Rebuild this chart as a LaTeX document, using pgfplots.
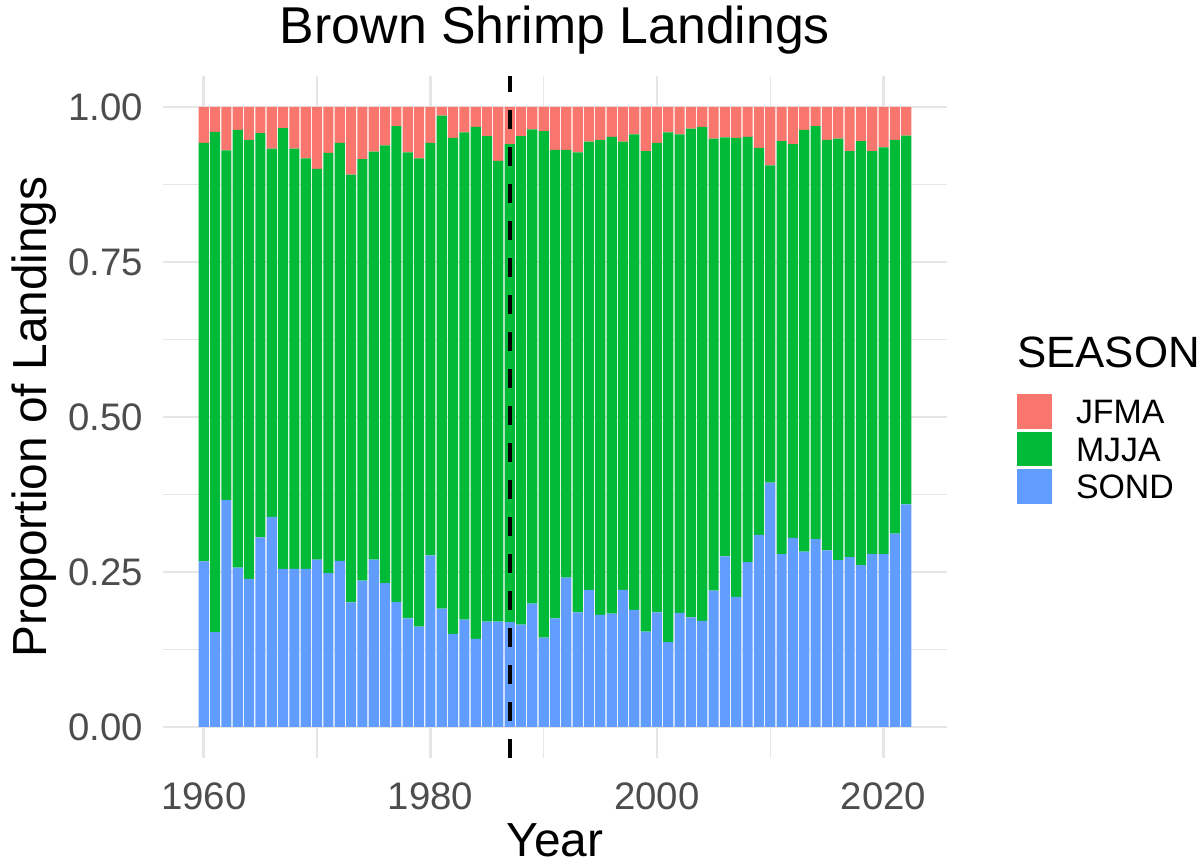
\documentclass[border=0pt]{standalone}
\usepackage{pgfplots}
\pgfplotsset{compat=1.18}
\usepackage{pgfplotstable}
\usepackage{fontspec}
\setmainfont{Liberation Sans}
\definecolor{cJFMA}{HTML}{F8766D}
\definecolor{cMJJA}{HTML}{00BA38}
\definecolor{cSOND}{HTML}{619CFF}
\definecolor{gridc}{HTML}{E6E6E6}
\definecolor{tickc}{HTML}{4D4D4D}
\pgfplotstableread{
year SOND MJJA JFMA
1960 0.267 0.675 0.058
1961 0.153 0.807 0.040
1962 0.366 0.564 0.070
1963 0.257 0.706 0.037
1964 0.239 0.708 0.053
1965 0.306 0.652 0.042
1966 0.339 0.594 0.067
1967 0.255 0.711 0.034
1968 0.255 0.678 0.067
1969 0.255 0.662 0.083
1970 0.270 0.630 0.100
1971 0.248 0.678 0.074
1972 0.268 0.674 0.058
1973 0.201 0.690 0.109
1974 0.236 0.680 0.084
1975 0.270 0.658 0.072
1976 0.232 0.706 0.062
1977 0.202 0.767 0.031
1978 0.175 0.752 0.073
1979 0.162 0.755 0.083
1980 0.277 0.665 0.058
1981 0.191 0.795 0.014
1982 0.150 0.800 0.050
1983 0.173 0.786 0.041
1984 0.142 0.826 0.032
1985 0.170 0.783 0.047
1986 0.170 0.743 0.087
1987 0.169 0.771 0.060
1988 0.165 0.788 0.047
1989 0.199 0.765 0.036
1990 0.144 0.817 0.039
1991 0.175 0.756 0.069
1992 0.241 0.690 0.069
1993 0.185 0.742 0.073
1994 0.221 0.723 0.056
1995 0.181 0.766 0.053
1996 0.183 0.769 0.048
1997 0.221 0.723 0.056
1998 0.189 0.767 0.044
1999 0.154 0.775 0.071
2000 0.185 0.757 0.058
2001 0.137 0.822 0.041
2002 0.184 0.772 0.044
2003 0.177 0.788 0.035
2004 0.171 0.797 0.032
2005 0.220 0.729 0.051
2006 0.275 0.676 0.049
2007 0.210 0.740 0.050
2008 0.266 0.686 0.048
2009 0.310 0.624 0.066
2010 0.394 0.512 0.094
2011 0.279 0.666 0.055
2012 0.305 0.635 0.060
2013 0.283 0.680 0.037
2014 0.303 0.666 0.031
2015 0.285 0.662 0.053
2016 0.269 0.680 0.051
2017 0.274 0.655 0.071
2018 0.261 0.684 0.055
2019 0.279 0.650 0.071
2020 0.279 0.656 0.065
2021 0.312 0.635 0.053
2022 0.359 0.595 0.046
}\datatable
\pgfplotstableread{
x y
1987 -0.05
1987 1.05
}\vlinetable
\begin{document}
\begin{tikzpicture}
\useasboundingbox (0,0) rectangle (1204bp,867bp);
\begin{axis}[
  at={(163bp,109bp)}, anchor=south west,
  width=784bp, height=682bp, scale only axis,
  clip=false,
  xmin=1956.405, xmax=2025.595,
  ymin=-0.05, ymax=1.05,
  ybar stacked, bar width=0.9,
  xtick={1960,1980,2000,2020},
  minor xtick={1970,1990,2010},
  ytick={0,0.25,0.5,0.75,1},
  minor ytick={0.125,0.375,0.625,0.875},
  grid=both,
  major grid style={draw=gridc, line width=2.6bp},
  minor grid style={draw=gridc, line width=1.4bp},
  axis line style={draw=none},
  major tick length=0pt, minor tick length=0pt,
  tick style={draw=none},
  /pgf/number format/assume math mode=true,
  /pgf/number format/1000 sep={},
  ticklabel style={font=\fontsize{38.5}{38.5}\selectfont, text=tickc, inner sep=0pt},
  xticklabel style={anchor=base, yshift=-51bp},
  yticklabel style={anchor=east, xshift=-20bp, /pgf/number format/.cd, fixed, fixed zerofill, precision=2},
  title={Brown Shrimp Landings},
  title style={font=\fontsize{52}{52}\selectfont, at={(0.5,1.0385)}, anchor=base, inner sep=0pt},
  xlabel={Year},
  xlabel style={font=\fontsize{48}{48}\selectfont, at={(0.5,-0.1445)}, anchor=base, inner sep=0pt},
  ylabel={Proportion of Landings},
  ylabel style={font=\fontsize{48}{48}\selectfont, at={(-0.1485,0.5)}, anchor=base, inner sep=0pt},
  reverse legend,
  legend image code/.code={\fill[#1] (0bp,-4.75bp) rectangle (35bp,29.75bp);},
  legend style={draw=none, fill=none, at={(1.0893,0.5337)}, anchor=north west,
    inner sep=0pt, outer sep=0pt, row sep=3bp,
    font=\fontsize{34}{34}\selectfont,
    nodes={inner sep=0pt, outer sep=0pt},
    cells={anchor=base west},
    /tikz/every odd column/.append style={column sep=24bp}},
]
\addplot[fill=cSOND, draw=none] table[x=year, y=SOND]{\datatable};
\addlegendentry{SOND}
\addplot[fill=cMJJA, draw=none] table[x=year, y=MJJA]{\datatable};
\addlegendentry{MJJA}
\addplot[fill=cJFMA, draw=none] table[x=year, y=JFMA]{\datatable};
\addlegendentry{JFMA}
\node[anchor=base west, font=\fontsize{44}{44}\selectfont, inner sep=0pt] at (rel axis cs:1.0893,0.5733) {SEASON};
\end{axis}
\begin{axis}[
  at={(163bp,109bp)}, anchor=south west,
  width=784bp, height=682bp, scale only axis,
  clip=false,
  xmin=1956.405, xmax=2025.595,
  ymin=-0.05, ymax=1.05,
  hide axis,
]
\addplot[sharp plot, no markers, black, line width=4.3bp, dash pattern=on 18.5bp off 18.5bp] table[x=x, y=y]{\vlinetable};
\end{axis}
\end{tikzpicture}
\end{document}
